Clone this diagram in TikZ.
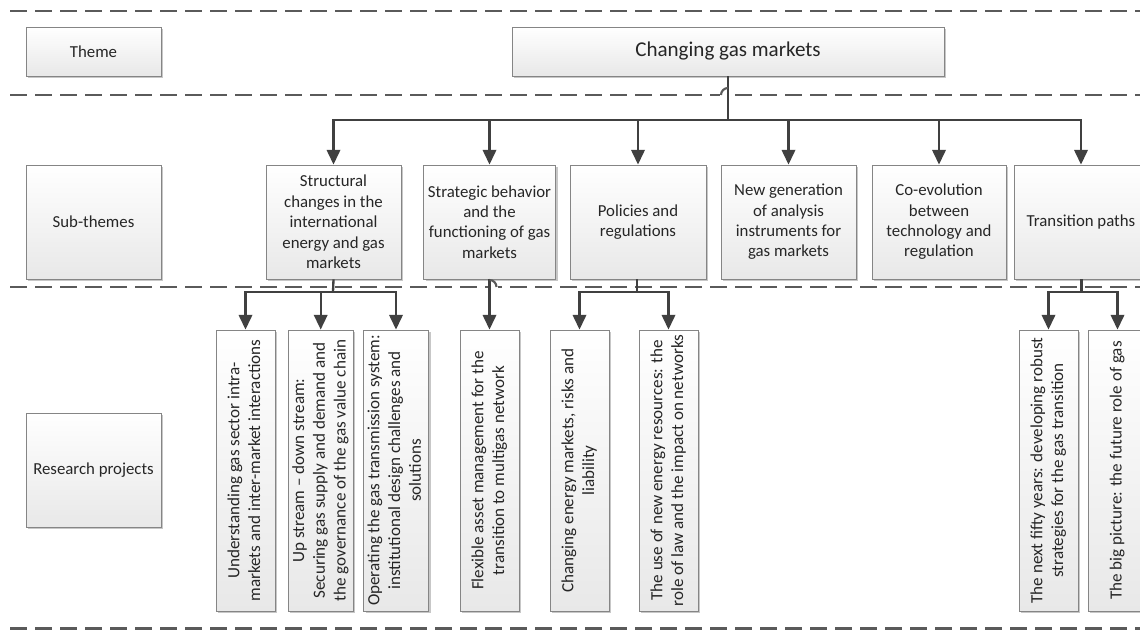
\documentclass[tikz,border=0pt]{standalone}
\usepackage{fontspec}
\setmainfont{Carlito}
\usetikzlibrary{arrows.meta,shadows}

\definecolor{linegray}{HTML}{404040}
\definecolor{dashgray}{HTML}{5A5A5A}
\definecolor{boxedge}{HTML}{858585}
\definecolor{inkgray}{HTML}{262626}

\newcommand{\rottext}[1]{\rotatebox{90}{\begin{tabular}{@{}c@{}}#1\end{tabular}}}

\tikzset{
  card/.style={draw=boxedge, line width=0.6pt, top color=white, bottom color=black!9,
    drop shadow={shadow xshift=1.6pt, shadow yshift=-1.6pt, fill=black!22, opacity=1},
    text=inkgray, align=center, inner sep=1pt,
    font=\fontsize{12.6}{15.3}\selectfont},
  labelcard/.style={card, minimum width=101.25pt, minimum height=85.5pt},
  subcard/.style={card, minimum width=101.25pt, minimum height=85.5pt},
  projcard/.style={card, minimum width=44.25pt, minimum height=210.75pt,
    font=\fontsize{12.8}{15.6}\selectfont},
  conn/.style={draw=linegray, line width=1.75pt},
  feed/.style={conn, -{Triangle[width=10pt,length=11pt]}},
  divider/.style={draw=dashgray, line width=2.2pt, dash pattern=on 12.75pt off 6pt},
  hop/.style={draw=dashgray, line width=1.6pt},
}

\begin{document}
\begin{tikzpicture}[x=0.75pt,y=-0.75pt]
\useasboundingbox (0,0) rectangle (1140,630);
\clip (0,0) rectangle (1140,630);
\fill[white] (0,0) rectangle (1140,630);

% horizontal band dividers
\draw[divider] (10,11) -- (1140,11);
\draw[divider] (10,95) -- (1140,95);
\draw[divider] (10,287) -- (1140,287);
\draw[divider] (10,628.5) -- (1140,628.5);

% row labels
\node[labelcard, minimum height=36.75pt] (theme) at (93.5,51.5) {Theme};
\node[labelcard] (sublabel) at (93.5,222) {Sub-themes};
\node[labelcard] (projlabel) at (93.5,470) {Research projects};

% theme
\node[card, minimum width=324pt, minimum height=36.75pt,
      font=\fontsize{15.8}{19}\selectfont] (top) at (728,51.5) {Changing gas markets};

% sub-themes
\node[subcard] (s1) at (333.5,222) {Structural\\changes in the\\international\\energy and gas\\markets};
\node[subcard, minimum width=99pt] (s2) at (489.5,222) {Strategic behavior\\and the\\functioning of gas\\markets};
\node[subcard, minimum width=102pt] (s3) at (638,222) {Policies and\\regulations};
\node[subcard] (s4) at (788.5,222) {New generation\\of analysis\\instruments for\\gas markets};
\node[subcard, minimum width=100.5pt] (s5) at (939,222) {Co-evolution\\between\\technology and\\regulation};
\node[subcard, minimum width=100.5pt] (s6) at (1081,222) {Transition paths};

% research projects
\node[projcard] (r1) at (245.5,470.5) {\rottext{Understanding gas sector intra-\\markets and inter-market interactions}};
\node[projcard] (r2) at (320.7,470.5) {\rottext{Up stream -- down stream:\\Securing gas supply and demand and\\the governance of the gas value chain}};
\node[projcard] (r3) at (396,470.5) {\rottext{Operating the gas transmission system:\\institutional design challenges and\\solutions}};
\node[projcard] (r4) at (489.5,470.5) {\rottext{Flexible asset management for the\\transition to multigas network}};
\node[projcard] (r5) at (579.5,470.5) {\rottext{Changing energy markets, risks and\\liability}};
\node[projcard] (r6) at (668.5,470.5) {\rottext{The use of new energy resources: the\\role of law and the impact on networks}};
\node[projcard] (r7) at (1048.5,470.5) {\rottext{The next fifty years: developing robust\\strategies for the gas transition}};
\node[projcard] (r8) at (1117.5,470.5) {\rottext{The big picture: the future role of gas}};

% theme -> sub-themes
\coordinate (tb) at (728,120);
\draw[conn] (top.south) -- (tb);
\foreach \s in {s1,s2,s3,s4,s5,s6}
  \draw[feed] (tb) -| (\s.north);

% sub-themes -> research projects
\coordinate (b1) at (333,292);
\draw[conn] (s1.south) -- (b1);
\foreach \r in {r1,r2,r3}
  \draw[feed] (b1) -| (\r.north);

\draw[feed] (s2.south) -- (r4.north);

\coordinate (b3) at (637,292);
\draw[conn] (s3.south -| b3) -- (b3);
\foreach \r in {r5,r6}
  \draw[feed] (b3) -| (\r.north);

\coordinate (b6) at (1081.5,292);
\draw[conn] (s6.south -| b6) -- (b6);
\foreach \r in {r7,r8}
  \draw[feed] (b6) -| (\r.north);

% line hops of the dividers over the connectors (y axis points down)
\fill[white] (720,92) rectangle (726.5,98);
\draw[hop] (721,95) arc[start angle=180, end angle=270, radius=7];
\fill[white] (491,284) rectangle (498,290);
\draw[hop] (489.5,280) arc[start angle=270, end angle=360, radius=7];
\end{tikzpicture}
\end{document}
